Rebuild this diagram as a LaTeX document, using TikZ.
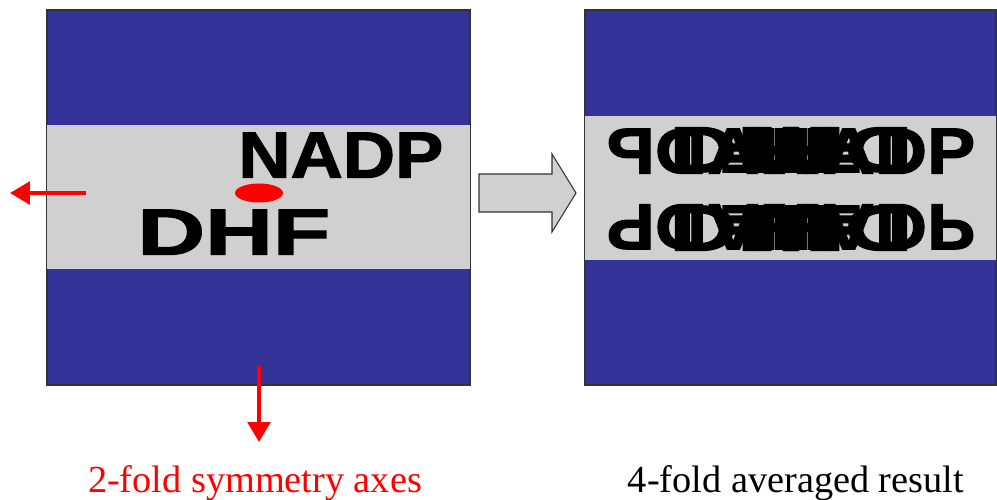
\documentclass[tikz,border=0pt]{standalone}
\usepackage{fontspec}
\setmainfont{Liberation Serif}
\newfontfamily\molfont[FakeBold=1.6]{Liberation Sans Bold}
\usepackage{graphicx}
\usetikzlibrary{arrows.meta}

\definecolor{panelblue}{RGB}{51,51,153}
\definecolor{bandgrey}{RGB}{208,208,208}

\tikzset{
  panel/.style={fill=panelblue,draw=black!80,line width=0.6pt},
  band/.style={fill=bandgrey,draw=none},
  mol/.style={inner sep=0pt,anchor=south west,font=\molfont},
  axis/.style={red,line width=2.5pt,-{Triangle[length=0.4cm,width=0.45cm]}},
  caption/.style={font=\fontsize{21.8}{24}\selectfont,anchor=base}
}

\newcommand{\nadp}{\resizebox{4.1cm}{0.9cm}{NADP}}
\newcommand{\dhf}{\resizebox{3.86cm}{0.9cm}{DHF}}

\begin{document}
\begin{tikzpicture}[x=0.02cm,y=0.02cm]
\useasboundingbox (0,0) rectangle (997,500);

% left panel
\draw[panel] (47,115) rectangle (470,490);
\fill[band] (47,231) rectangle (470,375);
\coordinate (c1) at (259,307);
\node[mol] (nadp1) at ([shift={(-21,15)}]c1) {\nadp};
\node[mol] (dhf1) at ([shift={(-122,-62)}]c1) {\dhf};
\fill[red] (c1) ellipse (24 and 9.5);

% symmetry axes
\coordinate (hs) at (86,307);
\coordinate (he) at (10,307);
\coordinate (vs) at (259,134);
\coordinate (ve) at (259,58);
\draw[axis] (hs) -- (he);
\draw[axis] (vs) -- (ve);

% block arrow
\draw[fill=bandgrey,draw=black!80,line width=0.6pt]
  (479,326) -- (552,326) -- (552,346) -- (576,307) -- (552,268) -- (552,288) -- (479,288) -- cycle;

% right panel, 4-fold average
\draw[panel] (585,115) rectangle (996,490);
\fill[band] (585,240) rectangle (996,384);
\coordinate (c2) at (791,311);
\foreach \sx/\sy in {1/1,-1/1,1/-1,-1/-1}{
  \begin{scope}[shift={(c2)},xscale=\sx,yscale=\sy,transform shape]
    \node[mol] (nadp2) at (-21,15) {\nadp};
    \node[mol] (dhf2) at (-122,-62) {\dhf};
  \end{scope}
}

% captions
\node[caption,red] (cap1) at (255,7) {2-fold symmetry axes};
\node[caption] (cap2) at (796,7) {4-fold averaged result};
\end{tikzpicture}
\end{document}
